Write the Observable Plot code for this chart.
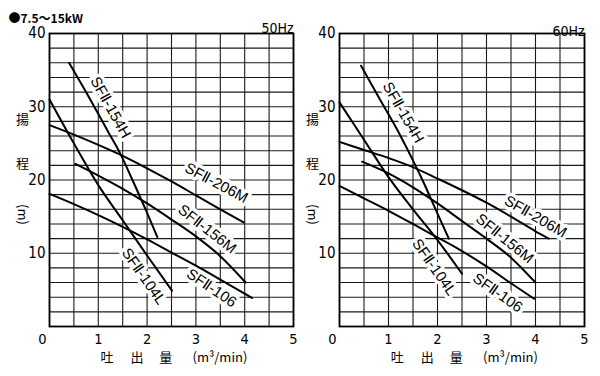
<!DOCTYPE html>
<html><head><meta charset="utf-8">
<script src="https://cdn.jsdelivr.net/npm/d3@7"></script>
<script src="https://cdn.jsdelivr.net/npm/@observablehq/plot@0.6"></script>
<style>
body{margin:0;background:#fff;}
#wrap{display:flex;width:600px;height:376px;}
svg{display:block}
</style></head><body><div id="wrap"></div>
<script>
// ---- data: 50Hz ----
const q50_154H = [0.40,0.80,1.20,1.45,1.70,2.00,2.21];
const h50_154H = [36.0,31.4,26.6,23.6,20.0,15.5,12.2];
const q50_206M = [0,0.5,1.0,1.5,2.0,2.5,3.0,3.5,3.98];
const h50_206M = [27.5,26.2,24.8,23.3,21.6,19.8,17.9,16.0,14.2];
const q50_156M = [0.53,1.0,1.5,2.0,2.5,3.0,3.5,4.02];
const h50_156M = [22.2,20.6,18.8,16.8,14.6,12.3,9.6,6.0];
const q50_104L = [0,0.5,1.0,1.5,2.0,2.51];
const h50_104L = [31.0,25.0,19.3,14.5,9.7,4.9];
const q50_106  = [0,0.5,1.0,1.5,2.0,2.5,3.0,3.5,4.15];
const h50_106  = [18.1,16.7,15.2,13.6,11.9,10.1,8.3,6.4,3.9];
// ---- data: 60Hz ----
const q60_154H = [0.44,0.80,1.20,1.55,1.70,2.00,2.23];
const h60_154H = [35.6,31.3,26.6,22.0,19.9,15.4,12.0];
const q60_206M = [0,0.5,1.0,1.52,2.0,2.5,3.0,3.5,4.0,4.27];
const h60_206M = [25.2,24.1,23.0,21.7,20.2,18.6,16.9,15.0,13.0,12.0];
const q60_156M = [0.46,1.0,1.5,2.0,2.5,3.0,3.5,4.0];
const h60_156M = [22.5,20.9,19.0,16.8,14.4,12.0,9.4,6.0];
const q60_104L = [0,0.5,1.0,1.5,2.0,2.5];
const h60_104L = [30.6,25.5,20.4,16.0,11.8,7.2];
const q60_106  = [0,0.5,1.0,1.5,1.93,2.37,3.0,3.5,3.97];
const h60_106  = [19.2,17.5,15.8,14.0,12.4,10.8,8.2,5.9,3.8];

const models = ["SFⅡ-154H","SFⅡ-206M","SFⅡ-156M","SFⅡ-104L","SFⅡ-106"];
// label anchor positions (flow, head) and angles
const lab50_q = [1.25,3.42,3.23,1.93,3.32];
const lab50_h = [29.9,19.6,13.3,6.85,5.25];
const lab60_q = [1.30,4.00,3.37,1.93,3.23];
const lab60_h = [29.2,15.0,12.0,8.1,4.6];
const lab50_angle = [61,28,38,55,34];
const lab60_angle = [60,30,39,55,35];

const xTicks = [1,2,3,4,5];
const yTicks = [10,20,30,40];
const gridX = [0,0.5,1,1.5,2,2.5,3,3.5,4,4.5,5];
const gridY = [0,2,4,6,8,10,12,14,16,18,20,22,24,26,28,30,32,34,36,38,40];
const titleText = "●7.5〜15kW";
const yTitle = ["揚","程","(m)"];
const yTitleH = [28.2,22.2,15.3];
const yTitleRot = [0,0,90];
const xTitle = ["吐","出","量","(m³/min)"];
const xTitleQ = [1.045,1.66,2.25,2.93];

function series(name, qs, hs){ return qs.map((q,i)=>({model:name,q,h:hs[i]})); }

const rows50 = [
  ...series(models[0], q50_154H, h50_154H),
  ...series(models[1], q50_206M, h50_206M),
  ...series(models[2], q50_156M, h50_156M),
  ...series(models[3], q50_104L, h50_104L),
  ...series(models[4], q50_106, h50_106)];
const rows60 = [
  ...series(models[0], q60_154H, h60_154H),
  ...series(models[1], q60_206M, h60_206M),
  ...series(models[2], q60_156M, h60_156M),
  ...series(models[3], q60_104L, h60_104L),
  ...series(models[4], q60_106, h60_106)];
const labels50 = models.map((m,i)=>({model:m,q:lab50_q[i],h:lab50_h[i],angle:lab50_angle[i]}));
const labels60 = models.map((m,i)=>({model:m,q:lab60_q[i],h:lab60_h[i],angle:lab60_angle[i]}));

const NARROW = "'Liberation Sans Narrow','DejaVu Sans Condensed','Liberation Sans',sans-serif";
const SANS = "'Liberation Sans','DejaVu Sans','Noto Sans CJK JP',sans-serif";
const CJK = "'Noto Sans CJK JP',sans-serif";

function panel({rows, labels, hz, hzDy, marginLeft, marginRight, title}) {
  const marks = [
    Plot.ruleX(gridX, {stroke:"#1a1a1a", strokeWidth:1.1}),
    Plot.ruleY(gridY, {stroke:"#1a1a1a", strokeWidth:1.1}),
    Plot.text(labels, {x:"q", y:"h", text:"model", rotate:"angle", fontSize:15, fill:"black",
      stroke:"white", strokeWidth:7, fontFamily:SANS}),
    Plot.line(rows, {x:"q", y:"h", z:"model", curve:"monotone-x", stroke:"black", strokeWidth:2}),
    Plot.frame({stroke:"black", strokeWidth:1.8}),
    Plot.axisY(yTicks, {tickSize:0, tickPadding:4, fontSize:15, fontFamily:NARROW, label:null}),
    Plot.axisX(xTicks, {tickSize:0, tickPadding:7, fontSize:14.5, fontFamily:NARROW, label:null}),
    Plot.axisX([0], {tickSize:0, tickPadding:7, dx:-7, fontSize:14.5, fontFamily:NARROW, label:null}),
    Plot.text([hz], {frameAnchor:"top-right", dy:hzDy, text:d=>d, textAnchor:"end", fontSize:14, fontFamily:NARROW}),
    Plot.text(yTitle, {x:0, y:yTitleH, text:d=>d, rotate:yTitleRot, dx:-27, fontSize:13, fontFamily:CJK}),
    Plot.text(xTitle, {x:xTitleQ, y:0, text:d=>d, dy:31, textAnchor:"start", fontSize:13, fontFamily:CJK})
  ];
  if (title) marks.push(Plot.text([title], {frameAnchor:"top-left", dx:-41, dy:-19, text:d=>d,
    textAnchor:"start", fontSize:12, fontWeight:"bold", fontFamily:CJK}));
  return Plot.plot({
    width:300, height:376, marginLeft, marginRight, marginTop:33, marginBottom:50,
    x:{domain:[0,5]}, y:{domain:[0,40]},
    style:{background:"white", color:"black", overflow:"visible"},
    marks
  });
}

const wrap = document.getElementById("wrap");
wrap.append(panel({rows:rows50, labels:labels50, hz:"50Hz", hzDy:-10, marginLeft:49, marginRight:7, title:titleText}));
wrap.append(panel({rows:rows60, labels:labels60, hz:"60Hz", hzDy:-7, marginLeft:39, marginRight:16}));
</script></body></html>
